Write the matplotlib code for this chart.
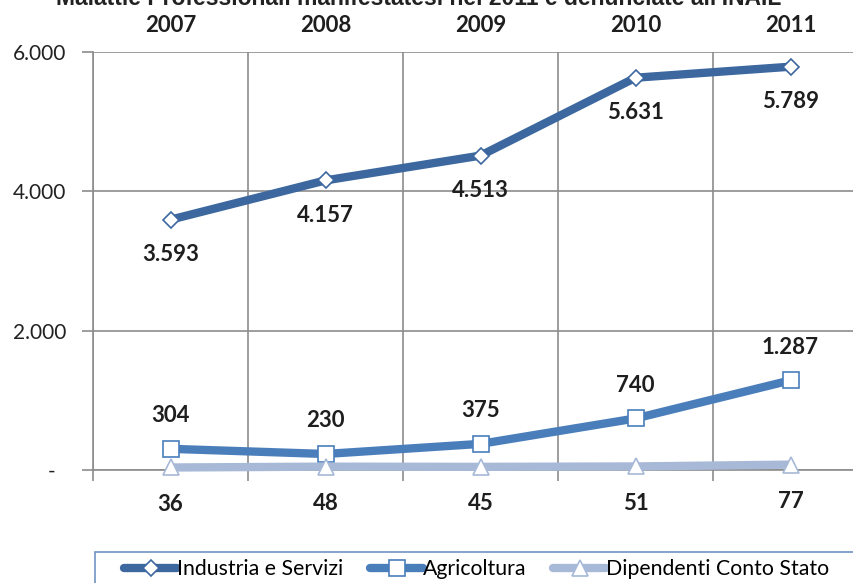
import numpy as np
import matplotlib
matplotlib.use("Agg")
import matplotlib.pyplot as plt
from matplotlib.patches import Rectangle
from matplotlib.lines import Line2D

plt.rcParams['font.family'] = ['Lato', 'DejaVu Sans']

anni = ['2007', '2008', '2009', '2010', '2011']
industria = [3593, 4157, 4513, 5631, 5789]
agricoltura = [304, 230, 375, 740, 1287]
dipendenti = [36, 48, 45, 51, 77]
nomi = ['Industria e Servizi', 'Agricoltura', 'Dipendenti Conto Stato']
colori = ['#3c679f', '#4a7ebb', '#a7b9d7']
marker = ['D', 's', '^']
msize = [8, 12, 12]
titolo = "Malattie Professionali manifestatesi nel 2011 e denunciate all'INAIL"


def fmt(v):
    return f'{v:,}'.replace(',', '.')


fig = plt.figure(figsize=(8.54, 5.83), dpi=100)
ax = fig.add_axes([93 / 854, 113 / 583, 775 / 854, 418 / 583])
x = np.arange(len(anni))
ax.set_xlim(-0.5, 4.5)
ax.set_ylim(0, 6000)

grigio = '#8c8c8c'
for s in ['top', 'right']:
    ax.spines[s].set_visible(False)
for s in ['left', 'bottom']:
    ax.spines[s].set_color(grigio)
    ax.spines[s].set_linewidth(1.2)

ax.set_yticks([0, 2000, 4000, 6000])
ax.set_yticklabels(['-  ', '2.000', '4.000', '6.000'])
ax.set_xticks(np.arange(-0.5, 5, 1))
ax.set_xticklabels([])
ax.tick_params(axis='y', length=8, width=1.2, color=grigio, pad=11,
               labelsize=15, labelcolor='#222222')
ax.tick_params(axis='x', length=8, width=1.2, color=grigio)
ax.grid(True, color=grigio, linewidth=1.2)
ax.set_axisbelow(True)

serie = [industria, agricoltura, dipendenti]
for vals, col, mk, ms in zip(serie, colori, marker, msize):
    ax.plot(x, vals, color=col, lw=6, solid_joinstyle='round',
            solid_capstyle='round', marker=mk, ms=ms, mfc='white',
            mec=col, mew=1.2, zorder=3, clip_on=False)

stile = dict(ha='center', va='center', fontsize=16, fontweight='bold',
             color='#1e1e1e', textcoords='offset pixels')
for xi, v in zip(x, industria):
    ax.annotate(fmt(v), (xi, v), xytext=(0, -35), **stile)
for xi, v in zip(x, agricoltura):
    ax.annotate(fmt(v), (xi, v), xytext=(0, 33), **stile)
for xi, v in zip(x, dipendenti):
    ax.annotate(fmt(v), (xi, v), xytext=(0, -37), **stile)
for xi, a in zip(x, anni):
    ax.annotate(a, (xi, 6000), xytext=(0, 27), annotation_clip=False,
                **stile)

fig.text(0.49, 1 - 5 / 583, titolo, ha='center', va='baseline',
         fontsize=16.5, fontweight='bold', family='Liberation Sans',
         color='#222222')

fig.patches.append(Rectangle((95 / 854, -0.05), 0.95, 31 / 583 + 0.05,
                             transform=fig.transFigure, fill=False,
                             edgecolor='#6f93c4', lw=1.2))
handles = [Line2D([], [], color=c, lw=6, solid_capstyle='round',
                  marker=m, ms=s, mfc='white', mec=c, mew=1.2)
           for c, m, s in zip(colori, marker, msize)]
fig.legend(handles, nomi, loc='center left', ncol=3,
           bbox_to_anchor=(124 / 854, 14 / 583), frameon=False,
           fontsize=15.3, handlelength=2.5, handletextpad=0.0,
           columnspacing=1.25, borderpad=0, borderaxespad=0)

fig.savefig('out.png', dpi=100)
